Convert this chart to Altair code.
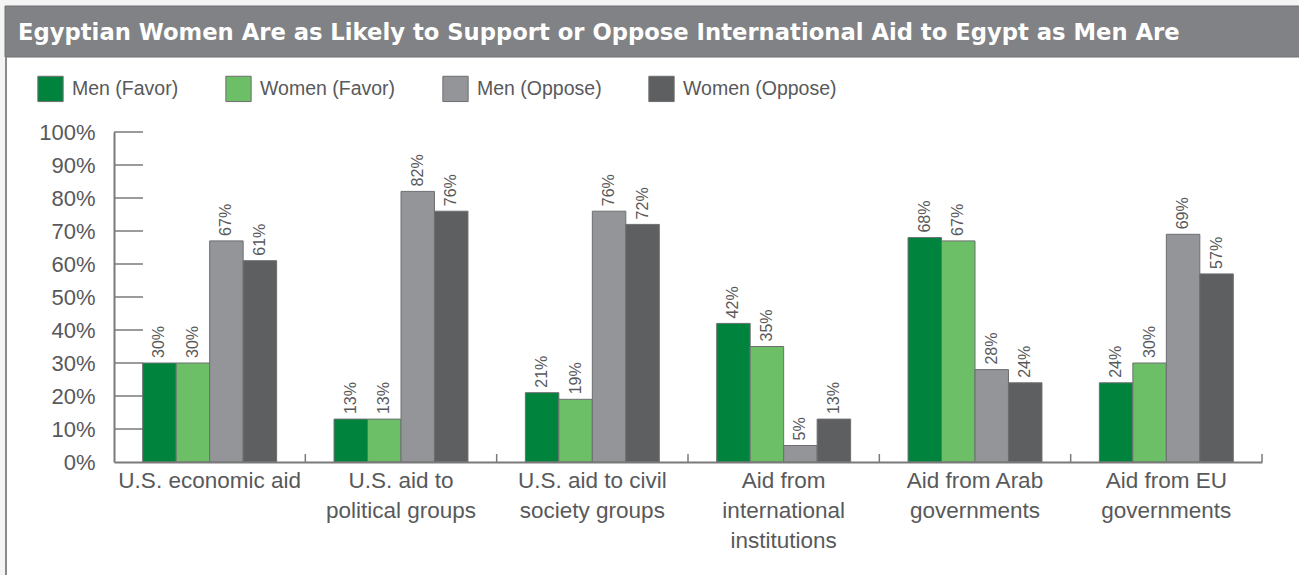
import altair as alt
import pandas as pd

categories = [
    "U.S. economic aid",
    "U.S. aid to\npolitical groups",
    "U.S. aid to civil\nsociety groups",
    "Aid from\ninternational\ninstitutions",
    "Aid from Arab\ngovernments",
    "Aid from EU\ngovernments",
]
series = ["Men (Favor)", "Women (Favor)", "Men (Oppose)", "Women (Oppose)"]
men_favor = [30, 13, 21, 42, 68, 24]
women_favor = [30, 13, 19, 35, 67, 30]
men_oppose = [67, 82, 76, 5, 28, 69]
women_oppose = [61, 76, 72, 13, 24, 57]
colors = ["#00843d", "#6cbf66", "#939598", "#5e5f61"]
y_ticks = [0, 10, 20, 30, 40, 50, 60, 70, 80, 90, 100]
title_text = "Egyptian Women Are as Likely to Support or Oppose International Aid to Egypt as Men Are"

rows = []
for i, c in enumerate(categories):
    for s, vals in zip(series, [men_favor, women_favor, men_oppose, women_oppose]):
        rows.append({"category": c, "series": s, "value": vals[i]})
df = pd.DataFrame(rows)
cat_df = pd.DataFrame({"category": categories})
tick_df = pd.DataFrame({"v": y_ticks[1:]})
bg = pd.DataFrame({"k": [0]})

FONT = "Liberation Sans"
TXT = "#58595b"
W, H = 1148, 330
L, T = 114, 132
P_IN, P_OUT = 0.3, 0.15
step = W / (len(categories) - P_IN + 2 * P_OUT)

x_scale = alt.Scale(paddingInner=P_IN, paddingOuter=P_OUT)
y_scale = alt.Scale(domain=[0, 100], nice=False)

x_axis = alt.Axis(
    title=None, labelAngle=0, labelFontSize=22.5, labelColor=TXT, labelFont=FONT,
    labelPadding=7, labelLineHeight=30, labelLimit=400, ticks=False,
    domainColor="#7a7a7a", domainWidth=2, zindex=1,
    labelExpr="split(datum.label, '\\n')",
)
y_axis = alt.Axis(
    title=None, values=y_ticks, labelExpr="datum.value + '%'", labelFontSize=22,
    labelColor=TXT, labelFont=FONT, labelPadding=19, ticks=False, grid=False,
    domainColor="#7a7a7a", domainWidth=2, zindex=1,
)

panel = alt.Chart(bg).mark_rect(fill="white").encode(
    x=alt.value(-107), x2=alt.value(1299 - L), y=alt.value(57 - T), y2=alt.value(575 - T)
)
title_bar = alt.Chart(bg).mark_rect(fill="#808285", stroke="#6f7073", strokeWidth=1).encode(
    x=alt.value(-109), x2=alt.value(1299 - L + 2), y=alt.value(6 - T), y2=alt.value(57 - T)
)
title_txt = alt.Chart(bg).mark_text(
    text=title_text, font="DejaVu Sans", fontSize=22.7, fontWeight="bold", color="white",
    align="left", baseline="middle"
).encode(x=alt.value(18 - L), y=alt.value(33 - T))
left_border = alt.Chart(bg).mark_rule(color="#8a8a8a", strokeWidth=2).encode(
    x=alt.value(6 - L), y=alt.value(57 - T), y2=alt.value(575 - T)
)

y_tick_rules = alt.Chart(tick_df).mark_rule(color="#7a7a7a", strokeWidth=1.5).encode(
    y=alt.Y("v:Q", scale=y_scale, axis=y_axis),
    x=alt.value(0), x2=alt.value(29),
)
band_ticks = alt.Chart(cat_df).mark_rule(
    color="#7a7a7a", strokeWidth=1.5, xOffset=step * P_OUT
).encode(
    x=alt.X("category:N", sort=categories, scale=x_scale, axis=x_axis, bandPosition=1),
    y=alt.value(H), y2=alt.value(H - 8),
)

bars = alt.Chart(df).mark_bar(stroke="#6d6e71", strokeWidth=1).encode(
    x=alt.X("category:N", sort=categories, scale=x_scale, axis=x_axis),
    xOffset=alt.XOffset("series:N", sort=series, scale=alt.Scale(paddingInner=0, paddingOuter=0)),
    y=alt.Y("value:Q", scale=y_scale, axis=y_axis),
    color=alt.Color("series:N", sort=series,
                    scale=alt.Scale(domain=series, range=colors),
                    legend=alt.Legend(title=None)),
)
labels = alt.Chart(df).transform_calculate(label="datum.value + '%'").mark_text(
    angle=270, align="left", baseline="middle", dx=5, fontSize=16, font=FONT, color=TXT
).encode(
    x=alt.X("category:N", sort=categories, scale=x_scale, axis=x_axis),
    xOffset=alt.XOffset("series:N", sort=series, scale=alt.Scale(paddingInner=0, paddingOuter=0)),
    y=alt.Y("value:Q", scale=y_scale, axis=y_axis),
    text="label:N",
)

chart = alt.layer(
    panel, title_bar, title_txt, left_border, y_tick_rules, band_ticks, bars, labels
).properties(
    width=W, height=H,
    autosize=alt.AutoSizeParams(type="none"),
    padding={"left": L, "top": T, "right": 1299 - L - W, "bottom": 575 - T - H},
    background="#f4f4f4",
).configure_view(strokeWidth=0).configure_legend(
    orient="none", legendX=37 - L, legendY=75 - T, direction="horizontal",
    symbolType="square", symbolSize=640, symbolStrokeColor="#6d6e71", symbolStrokeWidth=1,
    symbolOpacity=1, labelFontSize=19.5, labelFont=FONT, labelColor=TXT, labelOffset=8,
    columnPadding=44,
)

chart.save("out.html", embed_options={"renderer": "svg", "actions": False})
